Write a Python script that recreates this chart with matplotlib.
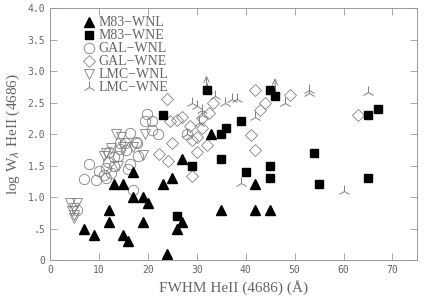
import numpy as np
import matplotlib.pyplot as plt

# M83 filled symbols
m83_wnl_x = [7, 9, 12, 12, 13, 15, 15, 16, 17, 17, 19, 19, 20, 23, 24, 25, 26, 27, 27, 33, 35, 42, 42, 45]
m83_wnl_y = [0.5, 0.4, 0.8, 0.6, 1.2, 1.2, 0.4, 0.3, 1.4, 1.0, 1.0, 0.6, 0.9, 1.2, 0.1, 1.3, 0.5, 0.6, 1.6, 2.0, 0.8, 1.2, 0.8, 0.8]

m83_wne_x = [23, 26, 29, 32, 35, 35, 36, 39, 40, 45, 45, 45, 46, 54, 55, 65, 65, 67]
m83_wne_y = [2.3, 0.7, 1.5, 2.7, 2.0, 1.6, 2.1, 2.2, 1.4, 2.7, 1.5, 1.3, 2.6, 1.7, 1.2, 2.3, 1.3, 2.4]

# Galactic open symbols
gal_wnl_x = [5.5, 7, 8, 9.5, 10, 11, 11.5, 11.8, 11.5, 12.5, 12, 13, 13, 14.3, 15.5, 15.3, 16.4, 17.5,
             16.4, 14.3, 17.7, 19.4, 19.8, 20.8, 20.8, 17, 16, 18, 28, 22, 14]
gal_wnl_y = [0.8, 1.28, 1.52, 1.27, 1.42, 1.35, 1.46, 1.55, 1.3, 1.38, 1.72, 1.63, 1.5, 1.77, 1.75, 1.85, 2.01, 1.88,
             1.53, 1.85, 1.85, 2.2, 2.32, 2.2, 2.06, 1.11, 1.45, 1.65, 2.0, 2.0, 1.65]

gal_wne_x = [24, 27, 26, 24.5, 28.6, 25, 22.3, 24.2, 29, 30, 32, 32.5, 33.4, 30, 31, 29,
             42, 49, 44, 43, 41, 42, 63, 31]
gal_wne_y = [2.55, 2.27, 2.22, 2.2, 2.12, 1.85, 1.68, 1.57, 1.33, 1.71, 1.83, 2.33, 2.49, 1.95, 2.1, 1.9,
             2.7, 2.62, 2.5, 2.38, 1.98, 1.75, 2.3, 2.25]

# LMC open symbols
lmc_wnl_x = [4, 5.5, 5, 4.5, 5, 5, 11.5, 12.5, 11, 13.5, 14.5, 15, 17, 19.5, 19, 14]
lmc_wnl_y = [0.9, 0.9, 0.83, 0.78, 0.72, 0.67, 1.7, 1.78, 1.65, 2.0, 1.95, 1.8, 1.8, 2.0, 1.67, 1.5]

lmc_wne_x = [29, 31, 31, 30.5, 28, 30, 33.7, 35.8, 37.2, 38.2, 42, 48, 53, 53, 65, 39, 60, 32, 46]
lmc_wne_y = [2.5, 2.38, 2.3, 2.17, 2.0, 2.45, 2.6, 2.5, 2.55, 2.55, 2.27, 2.5, 2.65, 2.7, 2.67, 1.22, 1.1, 2.72, 2.68]
# lower limits (upward arrows)
lim_x = [32, 46]
lim_y = [2.72, 2.68]

x_ticks = [0, 10, 20, 30, 40, 50, 60, 70]
y_ticks = [0, 0.5, 1.0, 1.5, 2.0, 2.5, 3.0, 3.5, 4.0]
y_ticklabels = ['0', '.5', '1.0', '1.5', '2.0', '2.5', '3.0', '3.5', '4.0']

grey = '#808080'
txt = '#666666'

fig = plt.figure(figsize=(4.25, 2.99), dpi=100)
ax = fig.add_axes([0.1176, 0.1304, 0.8634, 0.8426])

ax.plot(gal_wnl_x, gal_wnl_y, 'o', ms=7.5, mfc='none', mec=grey, mew=0.6, label='GAL\u2212WNL')
ax.plot(gal_wne_x, gal_wne_y, 'D', ms=6, mfc='none', mec=grey, mew=0.6, label='GAL\u2212WNE')
ax.plot(lmc_wnl_x, lmc_wnl_y, 'v', ms=7.5, mfc='none', mec=grey, mew=0.6, label='LMC\u2212WNL')
ax.plot(lmc_wne_x, lmc_wne_y, '2', ms=9, color=grey, mew=0.7, label='LMC\u2212WNE')
for x, y in zip(lim_x, lim_y):
    ax.annotate('', xy=(x, y + 0.25), xytext=(x, y),
                arrowprops=dict(arrowstyle='->', color=grey, lw=0.7))
ax.plot(m83_wnl_x, m83_wnl_y, '^', ms=6.5, color='black', label='M83\u2212WNL')
ax.plot(m83_wne_x, m83_wne_y, 's', ms=6, color='black', label='M83\u2212WNE')

ax.set_xlim(0, 75)
ax.set_ylim(0, 4)
ax.set_xticks(x_ticks)
ax.set_yticks(y_ticks)
ax.set_yticklabels(y_ticklabels)
ax.tick_params(direction='in', top=True, right=True, length=5, width=0.6,
               colors='#999999', labelcolor=txt, labelsize=7)
for lab in ax.get_xticklabels() + ax.get_yticklabels():
    lab.set_family('DejaVu Sans Mono')
for s in ax.spines.values():
    s.set_color('#999999')
    s.set_linewidth(0.7)

ax.set_xlabel('FWHM HeII (4686) (\u00c5)', family='Liberation Serif', fontsize=11, color=txt)
ax.set_ylabel(r'log W$_\lambda$ HeII (4686)', family='Liberation Serif', fontsize=11, color=txt)

handles, labels = ax.get_legend_handles_labels()
order = [4, 5, 0, 1, 2, 3]
ax.legend([handles[i] for i in order], [labels[i] for i in order],
          loc='upper left', bbox_to_anchor=(0.06, 1.0), frameon=False,
          prop={'family': 'Liberation Serif', 'size': 10}, labelcolor=txt,
          handletextpad=0.1, labelspacing=0.0, borderaxespad=0.2, handlelength=1.2)

fig.savefig('out.png', dpi=100)
